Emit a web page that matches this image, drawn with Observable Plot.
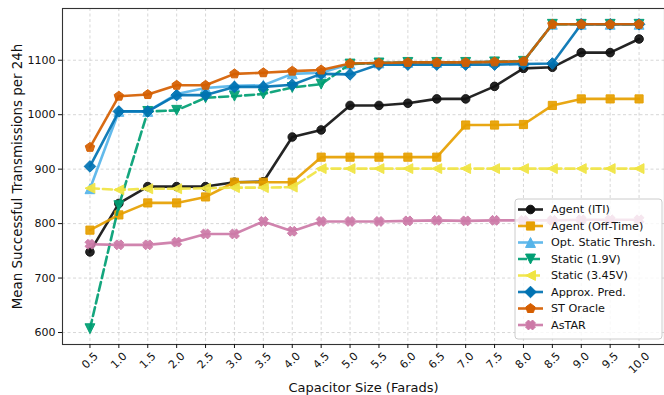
<!DOCTYPE html>
<html>
<head>
<meta charset="utf-8">
<script src="https://cdn.jsdelivr.net/npm/d3@7"></script>
<script src="https://cdn.jsdelivr.net/npm/@observablehq/plot@0.6"></script>
<style>
  html, body { margin: 0; padding: 0; background: #fff; }
  #chart svg { display: block; }
</style>
</head>
<body>
<div id="chart"></div>
<script>
// ---------- data ----------
const capacitorSizes = [0.5, 1.0, 1.5, 2.0, 2.5, 3.0, 3.5, 4.0, 4.5, 5.0, 5.5, 6.0, 6.5, 7.0, 7.5, 8.0, 8.5, 9.0, 9.5, 10.0];
const xTickLabels = ["0.5", "1.0", "1.5", "2.0", "2.5", "3.0", "3.5", "4.0", "4.5", "5.0", "5.5", "6.0", "6.5", "7.0", "7.5", "8.0", "8.5", "9.0", "9.5", "10.0"];
const yTicks = [600, 700, 800, 900, 1000, 1100];
const xLabel = "Capacitor Size (Farads)";
const yLabel = "Mean Successful Transmissions per 24h";

const seriesNames = ["Agent (ITI)", "Agent (Off-Time)", "Opt. Static Thresh.", "Static (1.9V)", "Static (3.45V)", "Approx. Pred.", "ST Oracle", "AsTAR"];

const agentITI     = [748, 837, 868, 868, 868, 876, 877, 959, 972, 1017, 1017, 1021, 1029, 1029, 1052, 1085, 1087, 1114, 1114, 1139];
const agentOffTime = [788, 816, 838, 838, 849, 876, 876, 876, 922, 922, 922, 922, 922, 981, 981, 982, 1017, 1029, 1029, 1029];
const optStatic    = [864, 1006, 1006, 1038, 1049, 1053, 1054, 1075, 1077, 1093, 1095, 1096, 1096, 1096, 1097, 1098, 1166, 1166, 1166, 1166];
const static19     = [607, 833, 1006, 1008, 1031, 1034, 1038, 1050, 1056, 1093, 1095, 1096, 1096, 1096, 1097, 1098, 1166, 1166, 1166, 1166];
const static345    = [865, 862, 864, 864, 865, 866, 866, 867, 901, 901, 901, 901, 901, 901, 901, 901, 901, 901, 901, 901];
const approxPred   = [905, 1006, 1006, 1036, 1036, 1051, 1051, 1055, 1075, 1074, 1092, 1092, 1092, 1092, 1092, 1093, 1094, 1166, 1166, 1166];
const stOracle     = [940, 1034, 1037, 1054, 1054, 1075, 1077, 1080, 1082, 1094, 1095, 1096, 1096, 1096, 1097, 1098, 1166, 1166, 1166, 1166];
const asTAR        = [762, 761, 761, 766, 781, 781, 804, 786, 804, 804, 804, 805, 806, 805, 806, 806, 806, 807, 807, 807];

const seriesValues = [agentITI, agentOffTime, optStatic, static19, static345, approxPred, stOracle, asTAR];
const seriesColors = ["#111111", "#E69F00", "#56B4E9", "#009E73", "#F0E442", "#0072B2", "#D55E00", "#CC79A7"];
const seriesDashed = [false, false, false, true, true, false, false, false];

// ---------- marker shapes (matplotlib-like) ----------
function poly(ctx, pts) {
  ctx.moveTo(pts[0][0], pts[0][1]);
  for (let i = 1; i < pts.length; i++) ctx.lineTo(pts[i][0], pts[i][1]);
  ctx.closePath();
}
const rad = size => Math.sqrt(size / Math.PI);
const symCircle = { draw(ctx, size) { const r = rad(size); ctx.moveTo(r, 0); ctx.arc(0, 0, r, 0, 2 * Math.PI); } };
const symSquare = { draw(ctx, size) { const r = rad(size) * 0.95; poly(ctx, [[-r, -r], [r, -r], [r, r], [-r, r]]); } };
const symTriUp = { draw(ctx, size) { const r = rad(size) * 1.15; poly(ctx, [[0, -r], [r, r], [-r, r]]); } };
const symTriDown = { draw(ctx, size) { const r = rad(size) * 1.15; poly(ctx, [[0, r], [r, -r], [-r, -r]]); } };
const symTriLeft = { draw(ctx, size) { const r = rad(size) * 1.15; poly(ctx, [[-r, 0], [r, -r], [r, r]]); } };
const symDiamond = { draw(ctx, size) { const r = rad(size) * 1.35; poly(ctx, [[0, -r], [r, 0], [0, r], [-r, 0]]); } };
const symPentagon = { draw(ctx, size) {
  const r = rad(size) * 1.15; const pts = [];
  for (let k = 0; k < 5; k++) { const a = -Math.PI / 2 + k * 2 * Math.PI / 5; pts.push([r * Math.cos(a), r * Math.sin(a)]); }
  poly(ctx, pts);
} };
const symX = { draw(ctx, size) {
  const r = rad(size) * 1.15, t = r * 0.42; const base = [];
  const plus = [[-t, -r], [t, -r], [t, -t], [r, -t], [r, t], [t, t], [t, r], [-t, r], [-t, t], [-r, t], [-r, -t], [-t, -t]];
  const c = Math.SQRT1_2;
  for (const [x, y] of plus) base.push([x * c - y * c, x * c + y * c]);
  poly(ctx, base);
} };
const seriesSymbols = [symCircle, symSquare, symTriUp, symTriDown, symTriLeft, symDiamond, symPentagon, symX];

// ---------- marks ----------
const FONT = "DejaVu Sans, sans-serif";
const marks = [];
marks.push(Plot.gridX(capacitorSizes, { stroke: "#b8b8b8", strokeOpacity: 0.7, strokeDasharray: "3,2.5", strokeWidth: 0.8 }));
marks.push(Plot.gridY(yTicks, { stroke: "#b8b8b8", strokeOpacity: 0.7, strokeDasharray: "3,2.5", strokeWidth: 0.8 }));

seriesValues.forEach((vals, s) => {
  const rows = capacitorSizes.map((x, i) => ({ x, y: vals[i] }));
  marks.push(Plot.line(rows, {
    x: "x", y: "y", stroke: seriesColors[s], strokeWidth: 2.6, strokeOpacity: 0.92,
    strokeDasharray: seriesDashed[s] ? "9,4" : null
  }));
  marks.push(Plot.dot(rows, {
    x: "x", y: "y", r: 4.3, symbol: seriesSymbols[s],
    fill: seriesColors[s], stroke: seriesColors[s], strokeWidth: 1, fillOpacity: 0.92, strokeOpacity: 0.92
  }));
});

marks.push(Plot.frame({ stroke: "#333", strokeWidth: 1.1 }));
marks.push(Plot.axisY(yTicks, { tickSize: 4, tickPadding: 3, fontSize: 11, label: null, tickFormat: d => String(d) }));
marks.push(Plot.axisX(capacitorSizes, { tickSize: 4, tickFormat: () => "", label: null }));

// rotated x tick labels (centered on tick like matplotlib)
const shortTicks = capacitorSizes.filter((d, i) => xTickLabels[i].length <= 3);
const longTicks = capacitorSizes.filter((d, i) => xTickLabels[i].length > 3);
const labelOf = d => xTickLabels[capacitorSizes.indexOf(d)];
marks.push(Plot.text(shortTicks, { x: d => d, frameAnchor: "bottom", dy: 16, rotate: -45, text: labelOf, fontSize: 11, textAnchor: "middle", lineAnchor: "middle" }));
marks.push(Plot.text(longTicks, { x: d => d, frameAnchor: "bottom", dy: 18.5, rotate: -45, text: labelOf, fontSize: 11, textAnchor: "middle", lineAnchor: "middle" }));

// axis titles
marks.push(Plot.text([xLabel], { frameAnchor: "bottom", dy: 43, text: d => d, fontSize: 13, textAnchor: "middle", lineAnchor: "middle" }));
marks.push(Plot.text([yLabel], { frameAnchor: "left", dx: -44.5, rotate: -90, text: d => d, fontSize: 13.4, textAnchor: "middle", lineAnchor: "middle" }));

// legend (inside plot, lower right)
marks.push((index, scales, values, dims) => {
  const right = dims.width - dims.marginRight;
  const bottom = dims.height - dims.marginBottom;
  const w = 147, rowH = 16.5, h = 8 + seriesNames.length * rowH;
  const x0 = right - w - 2, y0 = bottom - h - 5;
  const g = d3.create("svg:g").attr("font-family", FONT).attr("font-size", 11.2).attr("text-anchor", "start");
  g.append("rect").attr("x", x0).attr("y", y0).attr("width", w).attr("height", h)
    .attr("rx", 3).attr("fill", "#fff").attr("fill-opacity", 0.8)
    .attr("stroke", "#cccccc").attr("stroke-width", 1);
  seriesNames.forEach((name, i) => {
    const cy = y0 + 10.5 + i * rowH;
    g.append("line").attr("x1", x0 + 3).attr("x2", x0 + 28).attr("y1", cy).attr("y2", cy)
      .attr("stroke", seriesColors[i]).attr("stroke-width", 2.6).attr("stroke-opacity", 0.92)
      .attr("stroke-dasharray", seriesDashed[i] ? "9,4" : null);
    g.append("path").attr("transform", `translate(${x0 + 15.5},${cy})`)
      .attr("d", d3.symbol(seriesSymbols[i], Math.PI * 4.3 * 4.3)())
      .attr("fill", seriesColors[i]).attr("stroke", seriesColors[i]).attr("stroke-width", 1);
    g.append("text").attr("x", x0 + 36).attr("y", cy).attr("dy", "0.35em")
      .attr("text-anchor", "start").attr("fill", "#111").text(name);
  });
  return g.node();
});

const chart = Plot.plot({
  width: 664,
  height: 395,
  marginLeft: 62,
  marginRight: 0,
  marginTop: 8,
  marginBottom: 51,
  style: { fontFamily: FONT, fontSize: "11px", color: "#111", background: "#fff" },
  x: { domain: [0.025, 10.44] },
  y: { domain: [578, 1195] },
  marks
});
document.getElementById("chart").appendChild(chart);
</script>
</body>
</html>
